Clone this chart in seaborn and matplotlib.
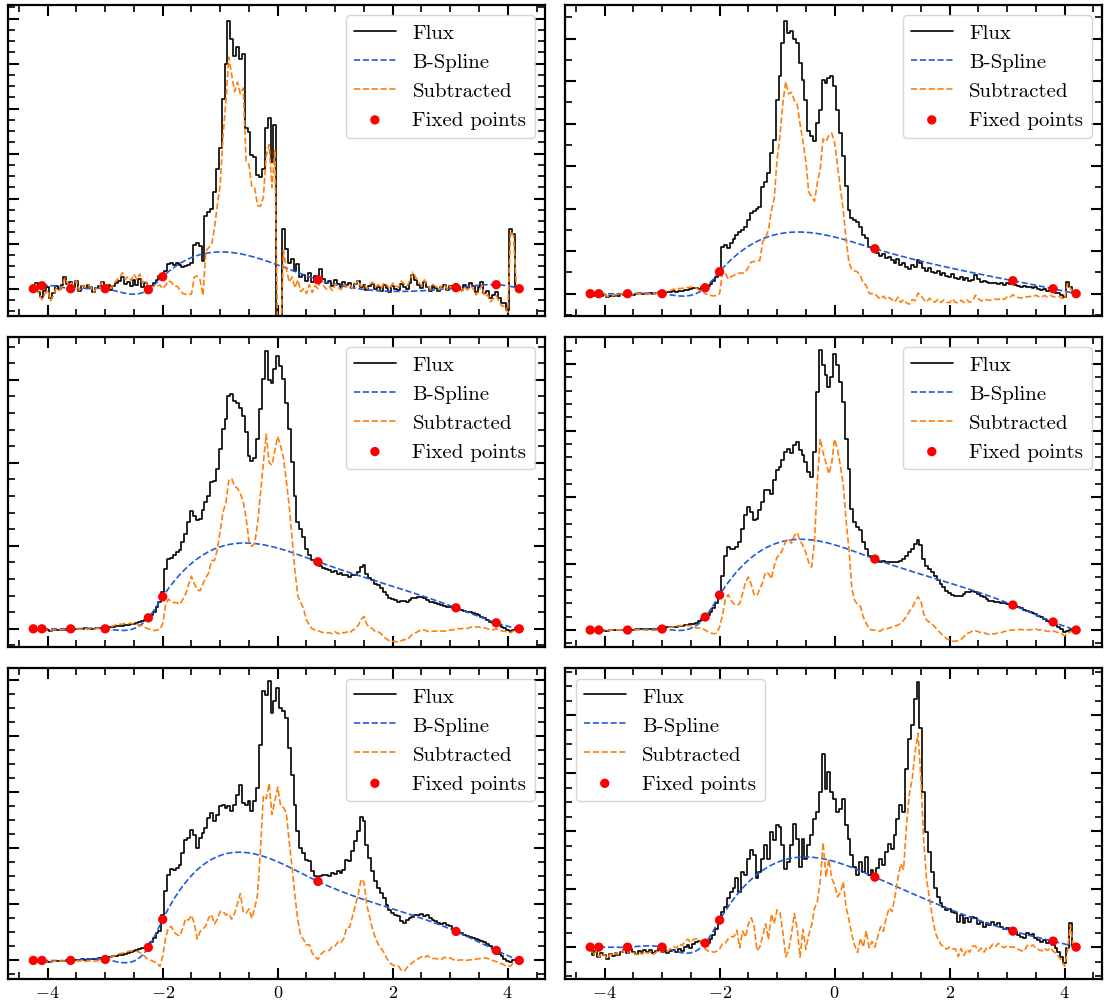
import numpy as np
import matplotlib
matplotlib.use('Agg')
import matplotlib.pyplot as plt
import seaborn as sns
from matplotlib.ticker import MultipleLocator

sns.set_style('ticks')
plt.rcParams['font.family'] = ['cmr10', 'DejaVu Serif']
plt.rcParams['mathtext.fontset'] = 'cm'
plt.rcParams['axes.formatter.use_mathtext'] = True
plt.rcParams['axes.unicode_minus'] = True
plt.rcParams['axes.edgecolor'] = 'black'
plt.rcParams['xtick.color'] = 'black'
plt.rcParams['ytick.color'] = 'black'
plt.rcParams['text.color'] = 'black'
plt.rcParams['axes.labelcolor'] = 'black'

# ---------------- data ----------------
# spectral grid (velocity-like coordinate), 0.05 step
x_grid = np.round(-4.25 + 0.05 * np.arange(170), 2)

flux_1 = [0, 6, -3, -8, -2, 2, -9, -4, 3, 0,
          4, 12, 5, 7, 2, 8, -2, 3, 1, 4,
          2, -3, 1, 3, 7, 2, 4, -1, 3, 6,
          8, 12, 5, 7, 3, 9, 4, 10, 2, 6,
          -1, 3, 6, 9, 13, 12, 18, 25, 26, 24,
          26, 24, 22, 23, 24, 26, 44, 46, 43, 28,
          73, 77, 80, 97, 120, 141, 190, 225, 268, 250,
          233, 242, 230, 235, 161, 157, 134, 132, 114, 112,
          120, 161, 171, 127, 164, -30, -30, 60, 40, 26,
          30, 18, 25, 12, 14, 8, 16, 7, 13, 9,
          20, 10, 6, 8, 3, 9, 5, 2, 7, 4,
          6, 1, 5, 8, 2, 4, -1, 3, 5, 0,
          2, -2, 4, 1, -3, 3, 0, -1, 5, 2,
          0, 6, 14, 9, 4, 1, 7, 2, -2, 3,
          1, -2, 2, 4, -1, 3, 0, 5, 2, -1,
          4, 1, 6, 3, -3, 2, 7, -4, -2, -9,
          -6, -3, -9, -14, -14, -21, 60, 55, 2, 0]

flux_2 = [0, -2, 1, -3, -2, -1, -3, -2, -2, -1,
          -2, 0, -1, -2, 0, -1, 0, 1, 0, 0,
          0, 1, 0, 1, 2, 1, 1, 2, 2, 3,
          2, 3, 3, 4, 4, 5, 6, 6, 5, 7,
          6, 8, 10, 13, 17, 22, 47, 49, 46, 51,
          55, 59, 62, 64, 67, 74, 81, 83, 85, 87,
          107, 112, 121, 141, 154, 194, 218, 251, 273, 261,
          263, 255, 251, 231, 214, 194, 163, 158, 153, 171,
          184, 214, 211, 216, 218, 208, 184, 161, 138, 108,
          84, 76, 74, 72, 67, 59, 56, 47, 46, 45,
          41, 38, 40, 36, 37, 34, 31, 35, 29, 31,
          27, 25, 29, 27, 34, 31, 26, 23, 26, 22,
          21, 23, 19, 21, 18, 17, 20, 16, 15, 17,
          14, 16, 13, 14, 19, 15, 12, 13, 12, 11,
          11, 11, 10, 11, 9, 11, 10, 12, 9, 8,
          7, 8, 7, 7, 6, 7, 5, 4, 5, 3,
          4, 2, 1, 1, -1, -3, 12, 7, 1, 0]

flux_3 = [0, -1, -1, -2, -1, -1, -2, -1, -1, -1,
          -1, -1, 0, -1, 0, 0, 0, 0, 1, 0,
          0, 0, 1, 1, 1, 1, 2, 2, 2, 3,
          3, 3, 4, 4, 5, 5, 6, 7, 8, 9,
          11, 14, 17, 22, 27, 37, 60, 70, 71, 74,
          77, 79, 87, 95, 107, 118, 113, 109, 110, 119,
          127, 133, 147, 148, 160, 180, 200, 210, 233, 235,
          228, 226, 221, 213, 197, 173, 168, 171, 190, 220,
          250, 278, 249, 246, 260, 273, 263, 250, 226, 200,
          167, 133, 107, 100, 92, 80, 74, 69, 67, 65,
          63, 61, 60, 59, 57, 58, 55, 56, 54, 54,
          52, 54, 54, 57, 62, 64, 55, 51, 49, 45,
          44, 41, 37, 34, 31, 30, 29, 27, 28, 28,
          27, 29, 31, 31, 32, 32, 31, 29, 27, 27,
          26, 25, 24, 23, 22, 22, 21, 21, 20, 19,
          18, 17, 17, 16, 15, 14, 12, 11, 9, 7,
          6, 6, 4, 2, 1, -1, -2, -1, 0, 0]

flux_4 = [0, -1, -1, -1, 0, -1, -1, 0, 0, 0,
          0, 0, 0, 0, 0, 0, 1, 1, 1, 1,
          1, 1, 1, 1, 2, 2, 2, 3, 3, 3,
          3, 4, 4, 5, 5, 6, 6, 7, 9, 11,
          13, 15, 18, 22, 27, 38, 54, 74, 83, 81,
          81, 83, 88, 101, 115, 123, 118, 110, 111, 120,
          128, 140, 140, 136, 150, 160, 163, 170, 178, 181,
          177, 185, 188, 180, 175, 168, 158, 153, 178, 238,
          280, 265, 255, 243, 253, 276, 265, 248, 228, 191,
          161, 121, 108, 103, 100, 88, 81, 74, 72, 71,
          69, 68, 69, 68, 68, 68, 68, 68, 69, 71,
          74, 78, 81, 86, 90, 85, 71, 64, 61, 58,
          54, 50, 46, 43, 39, 37, 35, 34, 34, 34,
          36, 38, 38, 39, 38, 36, 34, 33, 31, 29,
          29, 28, 28, 27, 27, 26, 26, 25, 24, 23,
          22, 20, 19, 18, 17, 16, 14, 13, 11, 9,
          8, 7, 5, 3, 1, -2, -1, 0, 0, 0]

flux_5 = [0, -1, -2, -2, -1, -2, -2, -1, -1, -1,
          -1, -1, 0, -1, 0, 0, 0, 1, 0, 1,
          1, 1, 1, 2, 2, 2, 3, 3, 4, 4,
          5, 5, 6, 7, 8, 9, 10, 11, 12, 12,
          14, 18, 22, 27, 29, 45, 69, 85, 91, 90,
          92, 95, 107, 120, 122, 130, 125, 112, 122, 127,
          132, 142, 147, 139, 145, 154, 155, 152, 154, 149,
          155, 165, 175, 157, 155, 159, 149, 159, 172, 215,
          269, 265, 279, 247, 259, 272, 252, 249, 242, 212,
          185, 155, 129, 112, 107, 100, 99, 89, 84, 80,
          84, 85, 85, 84, 87, 86, 89, 87, 90, 100,
          99, 109, 119, 129, 143, 139, 115, 102, 89, 79,
          72, 67, 62, 55, 50, 47, 45, 44, 39, 37,
          40, 42, 43, 45, 45, 46, 44, 45, 42, 40,
          39, 37, 36, 37, 35, 34, 31, 29, 28, 27,
          25, 24, 23, 22, 21, 20, 19, 18, 16, 14,
          11, 9, 6, 4, 1, -1, -2, 0, 0, 0]

flux_6 = [0, -8, -4, -10, -6, -8, -12, -7, -9, -6,
          -8, -5, -3, -6, -2, -5, -7, -4, -6, -3,
          -5, -3, -6, -4, -2, -5, -3, -6, -4, -3,
          -5, -2, -4, 0, 2, -1, 3, 5, 6, 4,
          2, 4, 8, 12, 18, 25, 35, 40, 49, 55,
          59, 69, 55, 75, 72, 88, 97, 92, 69, 75,
          88, 102, 88, 115, 107, 122, 120, 102, 78, 85,
          102, 123, 108, 80, 108, 88, 102, 112, 128, 135,
          155, 193, 158, 175, 155, 148, 135, 138, 148, 122,
          108, 92, 80, 72, 85, 75, 90, 72, 77, 70,
          79, 88, 82, 95, 103, 98, 112, 128, 142, 135,
          178, 208, 222, 248, 265, 219, 155, 115, 95, 75,
          59, 50, 44, 40, 37, 38, 35, 34, 25, 32,
          24, 29, 25, 30, 29, 23, 25, 20, 24, 22,
          25, 22, 24, 20, 18, 19, 17, 16, 15, 12,
          10, 9, 14, 12, 13, 9, 7, 5, 7, 4,
          6, 2, -1, -5, -10, -16, -1, 24, 2, 0]

fixed_x = [-4.25, -4.1, -3.6, -3.0, -2.25, -2.0, 0.7, 3.1, 3.8, 4.2]
fixed_1 = [0, 3, 0, 0, -1, 12, 9, 1, 4, 0]
fixed_2 = [0, 0, 0, 0, 6, 22, 45, 13, 5, 0]
fixed_3 = [0, 0, 0, 0, 11, 32, 67, 21, 6, 0]
fixed_4 = [0, 0, 0, 1, 13, 35, 71, 25, 8, 0]
fixed_5 = [0, 0, 0, 1, 13, 41, 79, 29, 10, 0]
fixed_6 = [0, 0, 0, 0, 4, 27, 70, 16, 6, 0]

fluxes = [flux_1, flux_2, flux_3, flux_4, flux_5, flux_6]
fixeds = [fixed_1, fixed_2, fixed_3, fixed_4, fixed_5, fixed_6]

# panel display settings (y limits and tick spacing, arbitrary flux units)
ylims = [(-27, 283.7), (-22, 288.7), (-18.6, 292.1), (-17.4, 293.3), (-18.7, 292), (-32, 278.7)]
ymajor = [45, 42.5, 83, 66.5, 56, 58]
yminor = [11.25, 21.25, 16.6, 13.3, 14, 14.5]
legend_loc = ['upper right'] * 5 + ['upper left']


def bspline_interp(xk, yk, xe):
    """Cubic interpolating spline (not-a-knot) through the fixed points."""
    xk = np.asarray(xk, float)
    yk = np.asarray(yk, float)
    n = len(xk)
    h = np.diff(xk)
    A = np.zeros((n, n))
    b = np.zeros(n)
    A[0, 0], A[0, 1], A[0, 2] = h[1], -(h[0] + h[1]), h[0]
    A[-1, -3], A[-1, -2], A[-1, -1] = h[-1], -(h[-2] + h[-1]), h[-2]
    for i in range(1, n - 1):
        A[i, i - 1] = h[i - 1]
        A[i, i] = 2 * (h[i - 1] + h[i])
        A[i, i + 1] = h[i]
        b[i] = 6 * ((yk[i + 1] - yk[i]) / h[i] - (yk[i] - yk[i - 1]) / h[i - 1])
    M = np.linalg.solve(A, b)
    xe = np.asarray(xe, float)
    idx = np.clip(np.searchsorted(xk, xe) - 1, 0, n - 2)
    x0, x1 = xk[idx], xk[idx + 1]
    hh = x1 - x0
    m0, m1 = M[idx], M[idx + 1]
    y0, y1 = yk[idx], yk[idx + 1]
    return (m0 * (x1 - xe) ** 3 / (6 * hh) + m1 * (xe - x0) ** 3 / (6 * hh)
            + (y0 / hh - m0 * hh / 6) * (x1 - xe) + (y1 / hh - m1 * hh / 6) * (xe - x0))


# ---------------- figure ----------------
fig, axes = plt.subplots(3, 2, figsize=(11.05, 10.03), dpi=100, sharex=True)
fig.subplots_adjust(left=0.0075, right=0.9973, bottom=0.0228, top=0.994,
                    wspace=0.0373, hspace=0.0676)

x_fine = np.linspace(fixed_x[0], fixed_x[-1], 500)

for k, ax in enumerate(axes.flat):
    flux = np.asarray(fluxes[k], float)
    fy = fixeds[k]
    spl_fine = bspline_interp(fixed_x, fy, x_fine)
    spl_grid = bspline_interp(fixed_x, fy, x_grid)
    sub = flux - spl_grid

    sns.lineplot(x=x_grid, y=flux, ax=ax, color='black', linewidth=1.2,
                 drawstyle='steps-mid', label='Flux', estimator=None, sort=False)
    sns.lineplot(x=x_fine, y=spl_fine, ax=ax, color='#1f5bdc', linewidth=1.2,
                 linestyle='--', label='B-Spline', estimator=None, sort=False)
    sns.lineplot(x=x_grid, y=sub, ax=ax, color='#ff7f0e', linewidth=1.2,
                 linestyle='--', label='Subtracted', estimator=None, sort=False)
    sns.scatterplot(x=fixed_x, y=fy, ax=ax, color='red', s=45, edgecolor='none',
                    label='Fixed points', zorder=5)

    ax.set_xlim(-4.685, 4.65)
    ax.set_ylim(*ylims[k])
    ax.xaxis.set_major_locator(MultipleLocator(2))
    ax.xaxis.set_minor_locator(MultipleLocator(0.5))
    ax.yaxis.set_major_locator(MultipleLocator(ymajor[k]))
    ax.yaxis.set_minor_locator(MultipleLocator(yminor[k]))
    ax.tick_params(which='both', direction='in', top=True, right=True,
                   labelleft=False, labelsize=13, color='black', labelcolor='black')
    ax.tick_params(which='major', length=8, width=1.5)
    ax.tick_params(which='minor', length=5, width=1.2)
    for sp in ax.spines.values():
        sp.set_linewidth(1.6)
        sp.set_color('black')
    ax.set_xlabel('')
    ax.set_ylabel('')
    ax.legend(loc=legend_loc[k], fontsize=15, scatterpoints=1)

fig.savefig('out.png', dpi=100)
